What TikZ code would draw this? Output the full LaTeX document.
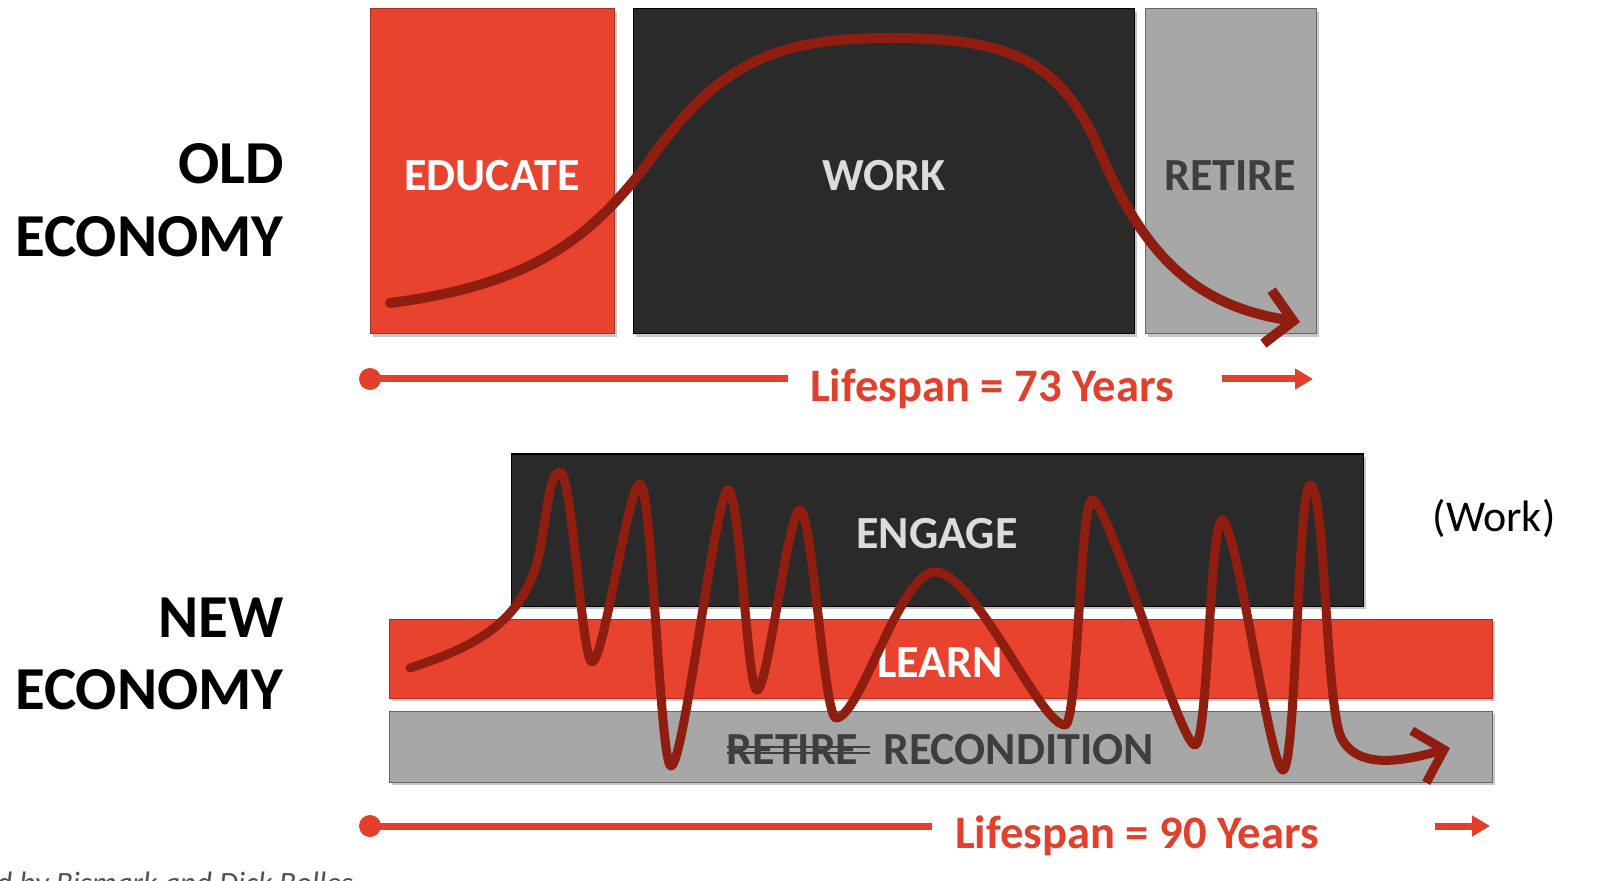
\documentclass[tikz,border=0pt]{standalone}
\usepackage{fontspec}
\setmainfont{Carlito}
\usetikzlibrary{arrows.meta}
\definecolor{edred}{HTML}{E8432E}
\definecolor{darkblk}{HTML}{2A2A2A}
\definecolor{gryblk}{HTML}{A7A7A7}
\definecolor{curvered}{HTML}{8F1D10}
\definecolor{lifered}{HTML}{E2402D}
\definecolor{worktxt}{HTML}{DCDCDC}
\definecolor{rettxt}{HTML}{3E3E3E}
\begin{document}
\begin{tikzpicture}[x=0.5pt,y=-0.5pt,
  shadowbox/.style={fill=black!22},
  redblk/.style={fill=edred,draw=edred!70!black,line width=0.5pt},
  darkbox/.style={fill=darkblk,draw=black,line width=0.5pt},
  graybox/.style={fill=gryblk,draw=black!60,line width=0.5pt},
  blklabel/.style={font=\bfseries\fontsize{23pt}{27pt}\selectfont,inner sep=0pt},
  econ/.style={font=\bfseries\fontsize{30.5pt}{36pt}\selectfont,inner sep=0pt,anchor=base east,text=black},
  life/.style={font=\bfseries\fontsize{23.3pt}{28pt}\selectfont,inner sep=0pt,anchor=base,text=lifered},
  lifeline/.style={draw=lifered,line width=3.5pt},
  wave/.style={draw=curvered,line width=4.5pt,line cap=round,line join=round},
  barb/.style={-{Straight Barb[length=13pt,width=27pt]}}
]
\useasboundingbox (0,0) rectangle (1620,881);
\clip (0,0) rectangle (1620,881);
\fill[white] (0,0) rectangle (1620,881);

% ---------- OLD ECONOMY ----------
\fill[shadowbox] (373,12) rectangle (617,337);
\fill[shadowbox] (636,12) rectangle (1137,337);
\fill[shadowbox] (1148,12) rectangle (1319,337);
\draw[redblk] (370,9) rectangle (614,334);
\draw[darkbox] (633,9) rectangle (1134,334);
\draw[graybox] (1145,9) rectangle (1316,334);

\node[blklabel,text=white] (educate) at (492,176) {EDUCATE};
\node[blklabel,text=worktxt] (work) at (884,176) {WORK};
\node[blklabel,text=rettxt] (retire) at (1230,176) {RETIRE};

\node[econ] (old) at (284,184) {OLD};
\node[econ] (econ1) at (284,257) {ECONOMY};

\coordinate (c0) at (390,303);
\coordinate (c1) at (1300,322);
\draw[wave,line width=5pt,barb] (c0) .. controls (530,285) and (590,240) .. (650,160)
  .. controls (720,60) and (780,38) .. (890,38)
  .. controls (1000,38) and (1055,55) .. (1095,140)
  .. controls (1140,250) and (1190,305) .. (c1);

% lifespan 73
\coordinate (l1s) at (370,379);
\coordinate (l1e) at (788,379);
\fill[lifered] (l1s) circle (11);
\draw[lifeline] (l1s) -- (l1e);
\node[life] (life73) at (992,402) {Lifespan = 73 Years};
\coordinate (a1s) at (1222,379);
\coordinate (a1e) at (1313,379);
\draw[lifeline,-{Triangle[length=9pt,width=10pt]}] (a1s) -- (a1e);

% ---------- NEW ECONOMY ----------
\fill[shadowbox] (514,457) rectangle (1366,609);
\fill[shadowbox] (392,622) rectangle (1495,701);
\fill[shadowbox] (392,714) rectangle (1495,785);
\draw[darkbox] (511,454) rectangle (1363,606);
\draw[redblk] (389,619) rectangle (1492,698);
\draw[graybox] (389,711) rectangle (1492,782);

\node[blklabel,text=worktxt] (engage) at (937,534) {ENGAGE};
\node[blklabel,text=white] (learn) at (940,663) {LEARN};
\node[blklabel,text=rettxt] (retire2) at (792.5,750) {RETIRE};
\node[blklabel,text=rettxt] (recond) at (1018.5,750) {RECONDITION};
\draw[rettxt,line width=1pt] (727,747) -- (870,747);
\draw[rettxt,line width=1pt] (727,753) -- (870,753);

\node[econ] (new) at (284,637) {NEW};
\node[econ] (econ2) at (284,709) {ECONOMY};

\node[font=\fontsize{22pt}{26pt}\selectfont,inner sep=0pt] (worklbl) at (1494,518) {(Work)};

\coordinate (w0) at (410,668);
\coordinate (w1) at (1450,748);
\draw[wave,barb] (w0) .. controls (470,648) and (525,625) .. (540,550)
  .. controls (548,505) and (550,472) .. (560,472)
  .. controls (572,472) and (582,662) .. (592,662)
  .. controls (604,662) and (628,484) .. (640,484)
  .. controls (652,484) and (660,766) .. (671,766)
  .. controls (684,766) and (716,490) .. (728,490)
  .. controls (740,490) and (747,690) .. (757,690)
  .. controls (768,690) and (788,510) .. (800,510)
  .. controls (812,510) and (824,718) .. (836,718)
  .. controls (860,718) and (900,572) .. (935,572)
  .. controls (975,572) and (1040,725) .. (1065,725)
  .. controls (1078,725) and (1080,500) .. (1092,500)
  .. controls (1108,500) and (1180,745) .. (1195,745)
  .. controls (1208,745) and (1210,520) .. (1222,520)
  .. controls (1236,520) and (1270,770) .. (1283,770)
  .. controls (1296,770) and (1298,485) .. (1310,485)
  .. controls (1325,485) and (1325,690) .. (1340,735)
  .. controls (1355,770) and (1400,762) .. (w1);

% lifespan 90
\coordinate (l2s) at (370,826);
\coordinate (l2e) at (932,826);
\fill[lifered] (l2s) circle (11);
\draw[lifeline] (l2s) -- (l2e);
\node[life] (life90) at (1137,848) {Lifespan = 90 Years};
\coordinate (a2s) at (1435,826);
\coordinate (a2e) at (1490,826);
\draw[lifeline,-{Triangle[length=9pt,width=10pt]}] (a2s) -- (a2e);

% cut-off credit
\node[font=\itshape\fontsize{15.5pt}{18pt}\selectfont,text=black!68,inner sep=0pt,anchor=base west] (credit) at (-4,893) {d by Bismark and Dick Bolles};
\end{tikzpicture}
\end{document}
